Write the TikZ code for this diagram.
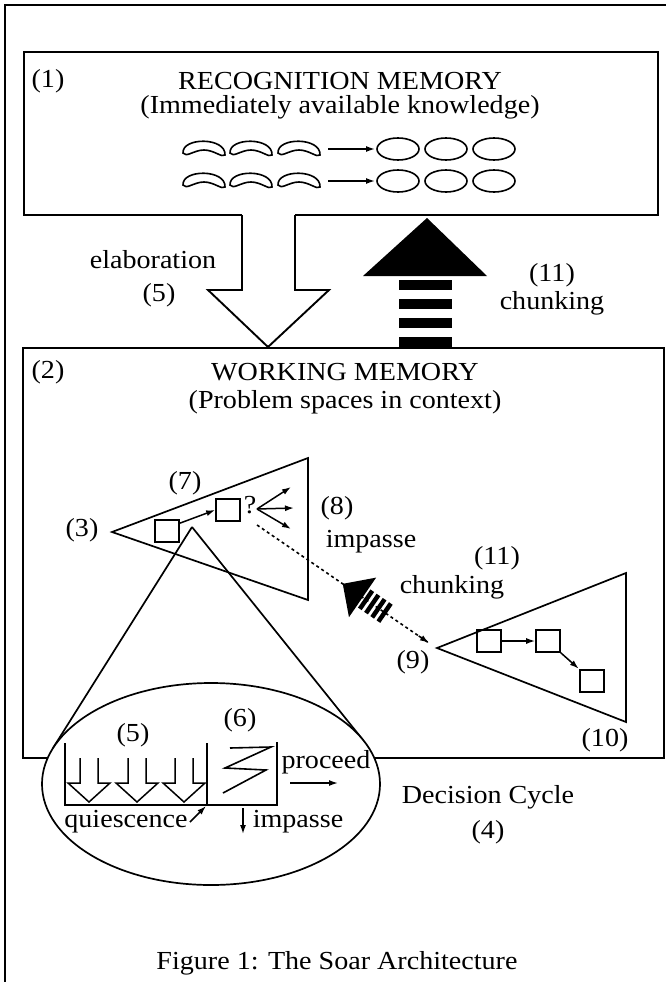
\documentclass[tikz,border=0pt]{standalone}
\usepackage{fontspec}
\setmainfont{Liberation Serif}[FakeStretch=1.08]
\usetikzlibrary{calc,arrows.meta}
\begin{document}
\begin{tikzpicture}[x=1pt,y=-1pt,line width=1.9pt,line join=miter,
  lbl/.style={font=\fontsize{26}{30}\selectfont,inner sep=0pt},
  sq/.style={draw,line width=1.6pt,minimum width=24pt,minimum height=22pt,inner sep=0pt},
  arr/.style={-{Latex[length=9pt,width=6pt]},line width=1.5pt},
  dotline/.style={line width=1.6pt,dash pattern=on 3pt off 3pt}]
\useasboundingbox (0,0) rectangle (666,982);
\fill[white] (0,0) rectangle (666,982);
% outer frame
\draw (5,982) -- (5,5) -- (666,5);
% recognition memory box with opening
\draw (242,215) -- (24,215) -- (24,52) -- (658,52) -- (658,215) -- (295,215);
\node[lbl] (n1) at (48,81) {(1)};
\node[lbl] (rm) at (340,81) {RECOGNITION MEMORY};
\node[lbl] (rms) at (340,107) {(Immediately available knowledge)};
% productions
\foreach \y in {149,181}{
  \foreach \x in {204,251,299}{
    \draw[line width=1.6pt] (\x-21,\y+4) .. controls (\x-22,\y-12) and (\x+22,\y-12) .. (\x+21,\y+6)
      .. controls (\x+18,\y+9) and (\x+10,\y+1) .. (\x,\y+1)
      .. controls (\x-10,\y+1) and (\x-18,\y+9) .. (\x-21,\y+4) -- cycle;
  }
  \draw[arr] (328,\y) -- (375,\y);
  \foreach \x in {398,446,494}{
    \draw[line width=1.6pt] (\x,\y) ellipse [x radius=21,y radius=11];
  }
}
% elaboration arrow
\draw (242,215) -- (242,290) -- (208,290) -- (268,347) -- (329,290) -- (295,290) -- (295,215);
\node[lbl] (el) at (153,260) {elaboration};
\node[lbl] (el5) at (159,295) {(5)};
% chunking arrow
\fill (427,218) -- (363,276) -- (487,276) -- cycle;
\foreach \a/\b in {280/290,299/309,318/328,337/348} \fill (399,\a) rectangle (452,\b);
\node[lbl] (c11) at (552,275) {(11)};
\node[lbl] (ch) at (552,303) {chunking};
% working memory box
\draw (23,348) rectangle (664,758);
\node[lbl] (n2) at (48,372) {(2)};
\node[lbl] (wm) at (345,372) {WORKING MEMORY};
\node[lbl] (wms) at (345,402) {(Problem spaces in context)};
% triangle 1
\draw[line width=1.7pt] (112,532) -- (308,458) -- (308,600) -- cycle;
\node[lbl] (n3) at (82,530) {(3)};
\node[lbl] (n7) at (185,483) {(7)};
\node[sq] (s1) at (167,531) {};
\node[sq] (s2) at (228,510) {};
\draw[arr] (s1.north east) ++(0,4) -- (s2.west);
\node[lbl] (q) at (250,505) {?};
\coordinate (qf) at (257,509);
\draw[arr] (qf) -- (291,487);
\draw[arr] (qf) -- (294,508);
\draw[arr] (qf) -- (291,529);
\node[lbl] (n8) at (337,508) {(8)};
\node[lbl] (imp) at (371,542) {impasse};
% triangle 2
\draw[line width=1.7pt] (437,648) -- (626,573) -- (626,722) -- cycle;
\node[lbl] (n9) at (413,662) {(9)};
\node[lbl] (n10) at (605,740) {(10)};
\node[sq] (s3) at (489,641) {};
\node[sq] (s4) at (548,641) {};
\node[sq,line width=2.6pt] (s5) at (592,681) {};
\draw[arr] (s3.east) -- (s4.west);
\draw[arr] (s4.south east) -- (s5.north west);
% dotted impasse link with chunking arrow
\coordinate (A) at (257,525);
\coordinate (B) at (429,643);
\draw[dotline] (A) -- (B);
\draw[-{Latex[length=9pt,width=6pt]},line width=1.5pt] ($(A)!0.94!(B)$) -- (B);
\coordinate (T) at ($(A)!104pt!(B)$);
\coordinate (M) at ($(A)!128pt!(B)$);
\fill (T) -- ($(M)!24pt!90:(B)$) -- ($(M)!24pt!-90:(B)$) -- cycle;
\foreach \s in {130,137.5,145,152.5}{
  \coordinate (P) at ($(A)!\s pt!(B)$);
  \coordinate (Q) at ($(A)!\s pt+4.5pt!(B)$);
  \fill ($(P)!11pt!90:(B)$) -- ($(P)!11pt!-90:(B)$) -- ($(Q)!11pt!90:(A)$) -- ($(Q)!11pt!-90:(A)$) -- cycle;
}
\node[lbl] (c11b) at (497,558) {(11)};
\node[lbl] (chb) at (452,587) {chunking};
% cone to decision cycle
\coordinate (apex) at (192,527);
\draw[line width=1.7pt] (apex) -- (53,748);
\draw[line width=1.7pt] (apex) -- (363,740);
% decision cycle ellipse
\draw[line width=1.7pt,fill=white] (211,784) ellipse [x radius=169,y radius=101];
\node[lbl] (d5) at (133,735) {(5)};
\node[lbl] (d6) at (240,720) {(6)};
\draw[line width=1.6pt] (65,743) -- (65,805) -- (277,805) -- (277,742);
\draw[line width=1.6pt] (207,743) -- (207,805);
\foreach \c in {89,137,184}{
  \draw[line width=1.5pt] (\c-9,758) -- (\c-9,783) -- (\c-21,783) -- (\c,802) -- (\c+21,783) -- (\c+9,783) -- (\c+9,758);
}
\draw[line width=1.6pt] (230,748) -- (271,747) -- (225,768) -- (266,770) -- (223,793);
\node[lbl] (pr) at (326,762) {proceed};
\draw[arr] (290,783) -- (338,783);
\node[lbl] (qu) at (126,822) {quiescence};
\draw[arr] (190,822) -- (206,806);
\draw[arr] (243,808) -- (243,834);
\node[lbl] (im2) at (298,822) {impasse};
\node[lbl] (dc) at (488,797) {Decision Cycle};
\node[lbl] (d4) at (488,832) {(4)};
% caption
\node[lbl] (cap) at (337,963) {Figure 1: The Soar Architecture};
\end{tikzpicture}
\end{document}
